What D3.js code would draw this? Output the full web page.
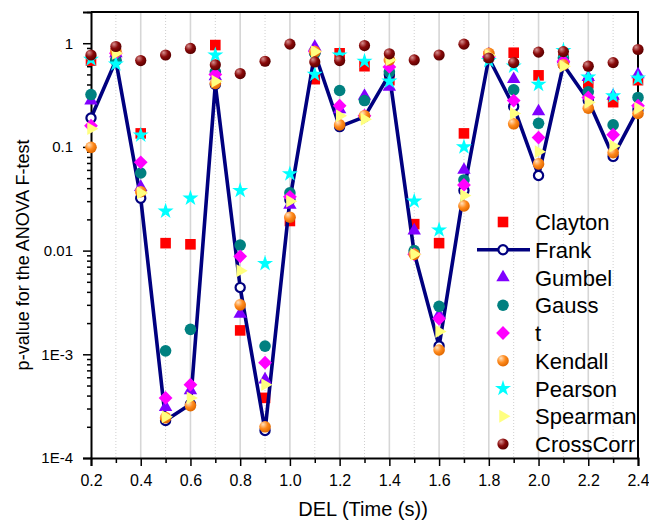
<!DOCTYPE html>
<html>
<head>
<meta charset="utf-8">
<script src="https://cdn.jsdelivr.net/npm/d3@7"></script>
<style>
  html, body { margin: 0; padding: 0; background: #fff; }
  svg { display: block; font-family: "Liberation Sans", Arial, sans-serif; }
</style>
</head>
<body>
<svg id="chart" width="649" height="522"></svg>
<script>
// Delay (s) at which each ANOVA test was run
const delays = [0.2, 0.3, 0.4, 0.5, 0.6, 0.7, 0.8, 0.9, 1.0, 1.1, 1.2, 1.3,
                1.4, 1.5, 1.6, 1.7, 1.8, 1.9, 2.0, 2.1, 2.2, 2.3, 2.4];

// p-values per dependence measure
const clayton   = [0.68, 0.80, 0.135, 0.0118, 0.0115, 0.96, 0.0017, 0.00038, 0.0193, 0.45, 0.80, 0.60,
                   0.44, 0.018, 0.0118, 0.135, 0.75, 0.81, 0.49, 0.70, 0.41, 0.27, 0.44];
const frank     = [0.19, 0.68, 0.032, 0.00023, 0.00033, 0.40, 0.0044, 0.000184, 0.031, 0.80, 0.157, 0.195,
                   0.50, 0.0095, 0.0012, 0.038, 0.72, 0.245, 0.053, 0.62, 0.28, 0.081, 0.23];
const gumbel    = [0.28, 0.80, 0.041, 0.00031, 0.00045, 0.48, 0.00245, 0.00057, 0.0276, 0.92, 0.23, 0.31,
                   0.38, 0.0156, 0.0024, 0.060, 0.78, 0.45, 0.22, 0.70, 0.47, 0.31, 0.50];
const gauss     = [0.32, 0.68, 0.056, 0.00108, 0.00174, 0.53, 0.0113, 0.0012, 0.036, 0.80, 0.35, 0.28,
                   0.53, 0.0100, 0.0029, 0.048, 0.72, 0.355, 0.169, 0.72, 0.34, 0.163, 0.30];
const tCopula   = [0.16, 0.80, 0.071, 0.00038, 0.00051, 0.50, 0.0088, 0.00083, 0.033, 0.83, 0.25, 0.20,
                   0.59, 0.0092, 0.0022, 0.043, 0.74, 0.28, 0.123, 0.67, 0.30, 0.131, 0.25];
const kendall   = [0.099, 0.83, 0.037, 0.000245, 0.00032, 0.41, 0.0030, 0.00020, 0.021, 0.83, 0.163, 0.20,
                   0.69, 0.0092, 0.0011, 0.027, 0.80, 0.167, 0.0686, 0.62, 0.236, 0.088, 0.21];
const pearson   = [0.70, 0.63, 0.13, 0.024, 0.032, 0.77, 0.038, 0.0075, 0.055, 0.50, 0.77, 0.67,
                   0.43, 0.030, 0.0158, 0.10, 0.68, 0.60, 0.40, 0.85, 0.47, 0.31, 0.46];
const spearman  = [0.15, 0.80, 0.036, 0.00025, 0.00038, 0.43, 0.0064, 0.00051, 0.030, 0.83, 0.20, 0.185,
                   0.69, 0.0092, 0.00166, 0.034, 0.76, 0.21, 0.090, 0.60, 0.27, 0.102, 0.236];
const crossCorr = [0.77, 0.93, 0.68, 0.77, 0.89, 0.62, 0.51, 0.67, 0.98, 0.66, 0.68, 0.95,
                   0.79, 0.69, 0.77, 0.98, 0.72, 0.65, 0.82, 0.83, 0.60, 0.65, 0.87];

const seriesNames = ["Clayton", "Frank", "Gumbel", "Gauss", "t", "Kendall", "Pearson", "Spearman", "CrossCorr"];

// Axis ticks
const xMajorTicks = [0.2, 0.4, 0.6, 0.8, 1.0, 1.2, 1.4, 1.6, 1.8, 2.0, 2.2, 2.4];
const xMinorTicks = [0.3, 0.5, 0.7, 0.9, 1.1, 1.3, 1.5, 1.7, 1.9, 2.1, 2.3];
const yMajorTicks = [1e-4, 1e-3, 1e-2, 1e-1, 1];
const yTickLabels = ["1E-4", "1E-3", "0.01", "0.1", "1"];

// ---------------------------------------------------------------------------
const svg = d3.select("#chart");
const margin = { left: 91, top: 12, right: 638, bottom: 458 };

const x = d3.scaleLinear().domain([0.2, 2.4]).range([margin.left, margin.right]);
const y = d3.scaleLog().domain([1e-4, 2]).range([margin.bottom, margin.top]);

const defs = svg.append("defs");
function sphereGradient(id, light, mid, dark) {
  const g = defs.append("radialGradient").attr("id", id)
    .attr("cx", "38%").attr("cy", "35%").attr("r", "65%").attr("fx", "32%").attr("fy", "28%");
  g.append("stop").attr("offset", "0%").attr("stop-color", light);
  g.append("stop").attr("offset", "55%").attr("stop-color", mid);
  g.append("stop").attr("offset", "100%").attr("stop-color", dark);
}
sphereGradient("kendallBall", "#ffe2c0", "#ff8a1c", "#e06800");
sphereGradient("crossBall", "#d89090", "#8a0a0a", "#5a0000");

// Vertical grid lines
const grid = svg.append("g");
grid.selectAll("line.minor").data(xMinorTicks).join("line")
  .attr("x1", d => x(d)).attr("x2", d => x(d))
  .attr("y1", margin.top).attr("y2", margin.bottom)
  .attr("stroke", "#cfcfcf").attr("stroke-width", 1).attr("stroke-dasharray", "1,2");
grid.selectAll("line.major").data(xMajorTicks.slice(1, -1)).join("line")
  .attr("x1", d => x(d)).attr("x2", d => x(d))
  .attr("y1", margin.top).attr("y2", margin.bottom)
  .attr("stroke", "#d6d6d6").attr("stroke-width", 1.6);

// Frame (top and right)
svg.append("path")
  .attr("d", `M${margin.left},${margin.top}H${margin.right}V${margin.bottom}`)
  .attr("fill", "none").attr("stroke", "#000").attr("stroke-width", 2);

// X axis
const xAxis = svg.append("g").attr("transform", `translate(0,${margin.bottom})`)
  .call(d3.axisBottom(x).tickValues(xMajorTicks).tickSize(8).tickPadding(9)
    .tickFormat(d3.format(".1f")));
svg.append("g").attr("transform", `translate(0,${margin.bottom})`)
  .call(d3.axisBottom(x).tickValues(xMinorTicks).tickSize(5).tickFormat(""))
  .call(g => g.select(".domain").remove());

// Y axis
const yMinor = [];
for (let e = -4; e <= 0; e++) for (let m = 2; m <= 9; m++) {
  const v = m * Math.pow(10, e);
  if (v <= 2) yMinor.push(v);
}
const yAxis = svg.append("g").attr("transform", `translate(${margin.left},0)`)
  .call(d3.axisLeft(y).tickValues(yMajorTicks).tickSize(8).tickPadding(10)
    .tickFormat((d, i) => yTickLabels[i]));
svg.append("g").attr("transform", `translate(${margin.left},0)`)
  .call(d3.axisLeft(y).tickValues(yMinor).tickSize(4).tickFormat(""))
  .call(g => g.select(".domain").remove());

svg.selectAll(".domain").attr("stroke", "#000").attr("stroke-width", 2);
svg.selectAll(".tick line").attr("stroke", "#000").attr("stroke-width", 1.5);
xAxis.selectAll("text").attr("font-size", 16).attr("fill", "#000")
  .attr("font-family", "'Liberation Sans', Arial, sans-serif");
yAxis.selectAll("text").attr("font-size", 15).attr("fill", "#000")
  .attr("font-family", "'Liberation Sans', Arial, sans-serif");

// Axis titles
svg.append("text").attr("x", 363).attr("y", 516).attr("text-anchor", "middle")
  .attr("font-size", 20).text("DEL (Time (s))");
svg.append("text").attr("transform", "translate(29,255) rotate(-90)")
  .attr("text-anchor", "middle").attr("font-size", 18)
  .text("p-value for the ANOVA F-test");

// Marker definitions
const markers = {
  Clayton:   { draw: g => g.append("path").attr("d", d3.symbol(d3.symbolSquare, 112)()).attr("fill", "#ff0000") },
  Frank:     { draw: g => g.append("circle").attr("r", 4.6).attr("fill", "#fff").attr("stroke", "#00007f").attr("stroke-width", 2.2) },
  Gumbel:    { draw: g => g.append("path").attr("d", d3.symbol(d3.symbolTriangle, 78)()).attr("fill", "#8000ff") },
  Gauss:     { draw: g => g.append("circle").attr("r", 5.8).attr("fill", "#008080") },
  t:         { draw: g => g.append("path").attr("d", d3.symbol(d3.symbolSquare, 95)()).attr("transform", "rotate(45)").attr("fill", "#ff00ff") },
  Kendall:   { draw: g => g.append("circle").attr("r", 5.8).attr("fill", "url(#kendallBall)") },
  Pearson:   { draw: g => g.append("path").attr("d", d3.symbol(d3.symbolStar, 80)()).attr("fill", "#00ffff") },
  Spearman:  { draw: g => g.append("path").attr("d", d3.symbol(d3.symbolTriangle, 72)()).attr("transform", "rotate(90)").attr("fill", "#ffff80") },
  CrossCorr: { draw: g => g.append("circle").attr("r", 5.6).attr("fill", "url(#crossBall)") }
};

const seriesData = {
  Clayton: clayton, Frank: frank, Gumbel: gumbel, Gauss: gauss, t: tCopula,
  Kendall: kendall, Pearson: pearson, Spearman: spearman, CrossCorr: crossCorr
};

const plot = svg.append("g");
const lineGen = d3.line().x((d, i) => x(delays[i])).y(d => y(d));

seriesNames.forEach(name => {
  const vals = seriesData[name];
  const g = plot.append("g");
  if (name === "Frank") {
    g.append("path").datum(vals).attr("d", lineGen)
      .attr("fill", "none").attr("stroke", "#00007f").attr("stroke-width", 3.6)
      .attr("stroke-linejoin", "round");
  }
  vals.forEach((v, i) => {
    const m = g.append("g").attr("transform", `translate(${x(delays[i])},${y(v)})`);
    markers[name].draw(m);
  });
});

// Legend
const legend = svg.append("g");
const legendX = 503, legendY0 = 222, legendStep = 27.75;
seriesNames.forEach((name, i) => {
  const yy = legendY0 + i * legendStep;
  if (name === "Frank") {
    legend.append("line").attr("x1", 477).attr("x2", 530).attr("y1", yy).attr("y2", yy)
      .attr("stroke", "#00007f").attr("stroke-width", 3.6);
  }
  const m = legend.append("g").attr("transform", `translate(${legendX},${yy})`);
  markers[name].draw(m);
  legend.append("text").attr("x", 535).attr("y", yy + 8).attr("font-size", 22)
    .attr("fill", "#000").text(name);
});
</script>
</body>
</html>
